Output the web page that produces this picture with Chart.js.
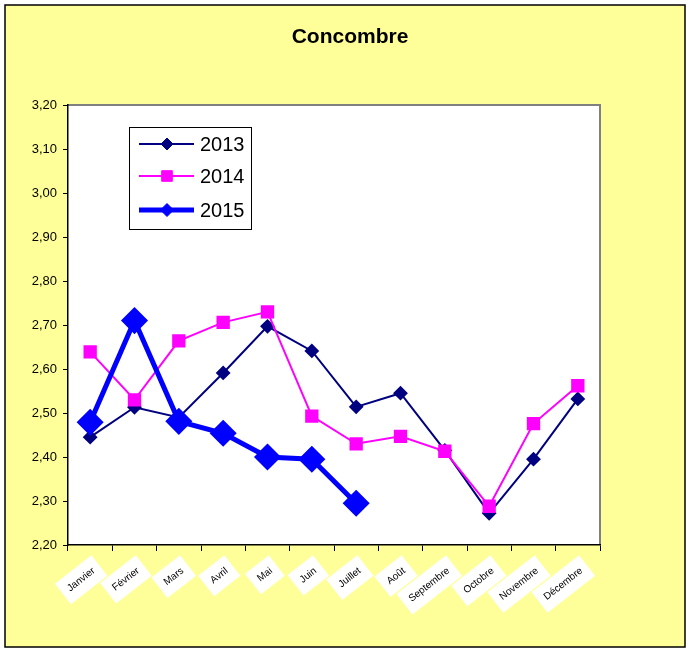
<!DOCTYPE html>
<html>
<head>
<meta charset="utf-8">
<script src="https://cdn.jsdelivr.net/npm/chart.js@4"></script>
<style>
  body { margin: 0; background: #fff; }
  #wrap { width: 690px; height: 650px; }
</style>
</head>
<body>
<div id="wrap"><canvas id="chart" width="690" height="650"></canvas></div>
<script>
const months = ['Janvier', 'Février', 'Mars', 'Avril', 'Mai', 'Juin', 'Juillet',
    'Août', 'Septembre', 'Octobre', 'Novembre', 'Décembre'];
const values2013 = [2.445, 2.513, 2.49, 2.591, 2.697, 2.641, 2.514, 2.545, 2.415, 2.272, 2.395, 2.532];
const values2014 = [2.639, 2.53, 2.664, 2.706, 2.73, 2.493, 2.43, 2.447, 2.413, 2.288, 2.476, 2.562];
const values2015 = [2.479, 2.71, 2.481, 2.454, 2.40, 2.395, 2.295];
const yTicks = ['2,20', '2,30', '2,40', '2,50', '2,60', '2,70', '2,80', '2,90', '3,00', '3,10', '3,20'];
const chartTitle = 'Concombre';

// yellow frame, title and white plot area
const background = {
    id: 'background',
    beforeDraw(chart) {
        const ctx = chart.ctx;
        const a = chart.chartArea;
        ctx.save();
        ctx.fillStyle = '#fff';
        ctx.fillRect(0, 0, chart.width, chart.height);
        ctx.fillStyle = '#ffff99';
        ctx.fillRect(5, 5, 680, 642);
        ctx.strokeStyle = '#000';
        ctx.lineWidth = 1.5;
        ctx.strokeRect(5, 5, 680, 642);
        ctx.fillStyle = '#000';
        ctx.font = 'bold 21px Arial, "Liberation Sans", sans-serif';
        ctx.textAlign = 'center';
        ctx.textBaseline = 'middle';
        ctx.fillText(chartTitle, 350, 37);
        ctx.fillStyle = '#fff';
        ctx.fillRect(a.left, a.top, a.right - a.left, a.bottom - a.top);
        ctx.strokeStyle = '#808080';
        ctx.lineWidth = 2;
        ctx.beginPath();
        ctx.moveTo(a.left, a.top);
        ctx.lineTo(a.right, a.top);
        ctx.lineTo(a.right, a.bottom);
        ctx.stroke();
        ctx.restore();
    }
};

// legend with line + marker, like the spreadsheet one
const lineLegend = {
    id: 'lineLegend',
    afterDraw(chart) {
        const ctx = chart.ctx;
        ctx.save();
        ctx.fillStyle = '#fff';
        ctx.fillRect(129, 127, 122, 102);
        ctx.strokeStyle = '#000';
        ctx.lineWidth = 1;
        ctx.strokeRect(129.5, 127.5, 122, 102);
        const rows = [144, 176, 210];
        const sizes = [6, 7.5, 6.5];
        [0, 1, 2].forEach(i => {
            const ds = chart.data.datasets[i];
            const y = rows[i];
            ctx.strokeStyle = ds.borderColor;
            ctx.lineWidth = ds.borderWidth;
            ctx.beginPath();
            ctx.moveTo(139, y);
            ctx.lineTo(194, y);
            ctx.stroke();
            ctx.fillStyle = ds.pointBackgroundColor;
            ctx.strokeStyle = ds.pointBorderColor;
            ctx.lineWidth = 1;
            Chart.helpers.drawPoint(ctx, { pointStyle: ds.pointStyle, radius: sizes[i], borderWidth: 1 }, 167, y);
            ctx.fillStyle = '#000';
            ctx.font = '20px Arial, "Liberation Sans", sans-serif';
            ctx.textBaseline = 'middle';
            ctx.fillText(ds.label, 200, y + 1);
        });
        ctx.restore();
    }
};

new Chart(document.getElementById('chart'), {
    type: 'line',
    data: {
        labels: months,
        datasets: [{
            label: '2013',
            data: values2013,
            borderColor: '#000080',
            borderWidth: 2,
            pointStyle: 'rectRot',
            pointRadius: 6,
            pointBackgroundColor: '#000080',
            pointBorderColor: '#000080',
            order: 3
        }, {
            label: '2014',
            data: values2014,
            borderColor: '#ff00ff',
            borderWidth: 2,
            pointStyle: 'rect',
            pointRadius: 8,
            pointBackgroundColor: '#ff00ff',
            pointBorderColor: '#ff00ff',
            order: 2
        }, {
            label: '2015',
            data: values2015,
            borderColor: '#0000ff',
            borderWidth: 5,
            pointStyle: 'rectRot',
            pointRadius: 10,
            pointBackgroundColor: '#0000ff',
            pointBorderColor: '#0000ff',
            order: 1
        }]
    },
    options: {
        responsive: false,
        animation: false,
        tension: 0,
        layout: { padding: { left: 0, right: 90, top: 105, bottom: 0 } },
        plugins: {
            legend: { display: false },
            tooltip: { enabled: false },
            title: { display: false }
        },
        scales: {
            x: {
                offset: true,
                afterFit(scale) { scale.height = 105; },
                grid: {
                    drawOnChartArea: false,
                    drawTicks: true,
                    tickLength: 6,
                    tickColor: '#000',
                    offset: true
                },
                border: { color: '#000', width: 1.5 },
                ticks: {
                    autoSkip: false,
                    minRotation: 38,
                    maxRotation: 38,
                    padding: 14,
                    color: '#000',
                    font: { family: 'Arial, "Liberation Sans", sans-serif', size: 10 },
                    showLabelBackdrop: true,
                    backdropColor: '#fff',
                    backdropPadding: 7
                }
            },
            y: {
                min: 2.2,
                max: 3.2,
                afterFit(scale) { scale.width = 68; },
                grid: {
                    drawOnChartArea: false,
                    drawTicks: true,
                    tickLength: 5,
                    tickColor: '#000'
                },
                border: { color: '#000', width: 1.5 },
                ticks: {
                    stepSize: 0.1,
                    padding: 6,
                    color: '#000',
                    font: { family: 'Arial, "Liberation Sans", sans-serif', size: 13 },
                    callback: (v, i) => yTicks[i]
                }
            }
        }
    },
    plugins: [background, lineLegend]
});
</script>
</body>
</html>
